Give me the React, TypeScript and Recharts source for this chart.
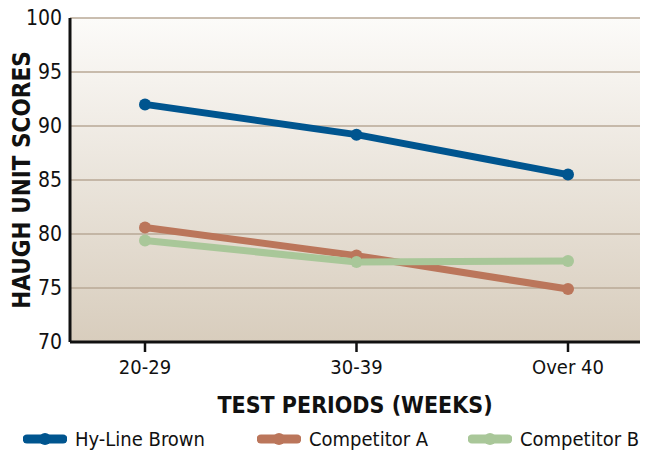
import { CartesianGrid, Label, Legend, Line, LineChart, XAxis, YAxis } from "recharts";

const periods = ["20-29", "30-39", "Over 40"];
const hyLineBrown = [92.0, 89.2, 85.5];
const competitorA = [80.6, 78.0, 74.9];
const competitorB = [79.4, 77.4, 77.5];
const yTicks = [70, 75, 80, 85, 90, 95, 100];

const series = [
  { key: "hyline", name: "Hy-Line Brown", color: "#00558f", left: 23 },
  { key: "compA", name: "Competitor A", color: "#bb765b", left: 257 },
  { key: "compB", name: "Competitor B", color: "#a9c799", left: 468 },
];

const data = periods.map((period, i) => ({
  period,
  hyline: hyLineBrown[i],
  compA: competitorA[i],
  compB: competitorB[i],
}));

const FONT = '"Liberation Sans Narrow", "DejaVu Sans Condensed", "Roboto Condensed", sans-serif';

function LegendRow() {
  return (
    <div style={{ position: "relative", height: 37, fontFamily: FONT, fontSize: 20, color: "#111" }}>
      {series.map((s) => (
        <div
          key={s.key}
          style={{ position: "absolute", left: s.left, top: 10, display: "flex", alignItems: "center", whiteSpace: "nowrap" }}
        >
          <svg width={44} height={14} style={{ marginRight: 8 }}>
            <line x1={4} y1={7} x2={40} y2={7} stroke={s.color} strokeWidth={9} strokeLinecap="round" />
            <circle cx={22} cy={7} r={6} fill={s.color} />
          </svg>
          <span>{s.name}</span>
        </div>
      ))}
    </div>
  );
}

export default function App() {
  return (
    <div style={{ position: "absolute", left: 0, top: 0, background: "#fff" }}>
      <LineChart width={646} height={454} data={data} margin={{ top: 18, right: 6, bottom: 0, left: 0 }}>
        <defs>
          <linearGradient id="plotBg" x1="0" y1="0" x2="0" y2="1">
            <stop offset="0%" stopColor="#fcfbf9" />
            <stop offset="100%" stopColor="#d8cdbd" />
          </linearGradient>
        </defs>
        <CartesianGrid vertical={false} fill="url(#plotBg)" stroke="#b8a996" strokeWidth={1.5} />
        <XAxis
          dataKey="period"
          height={75}
          padding={{ left: 75, right: 72 }}
          axisLine={{ stroke: "#111", strokeWidth: 3 }}
          tickLine={{ stroke: "#111", strokeWidth: 2.5 }}
          tickSize={10}
          tickMargin={8}
          tick={{ fill: "#111", fontSize: 20, fontFamily: FONT }}
        >
          <Label
            value="TEST PERIODS (WEEKS)"
            position="insideBottom"
            offset={4}
            style={{ fill: "#111", fontSize: 23, fontWeight: 700, fontFamily: FONT }}
          />
        </XAxis>
        <YAxis
          domain={[70, 100]}
          ticks={yTicks}
          width={70}
          axisLine={{ stroke: "#111", strokeWidth: 3 }}
          tickLine={false}
          tickSize={0}
          tickMargin={8}
          tick={{ fill: "#111", fontSize: 21, fontFamily: FONT }}
        >
          <Label
            content={({ viewBox }: any) => (
              <text
                x={0}
                y={0}
                transform={`translate(${viewBox.x + 30}, ${viewBox.y + viewBox.height / 2}) rotate(-90)`}
                textAnchor="middle"
                style={{ fill: "#111", fontSize: 24, fontWeight: 700, fontFamily: FONT }}
              >
                HAUGH UNIT SCORES
              </text>
            )}
          />
        </YAxis>
        <Legend verticalAlign="bottom" height={37} content={() => <LegendRow />} />
        {series.map((s) => (
          <Line
            key={s.key}
            dataKey={s.key}
            name={s.name}
            stroke={s.color}
            strokeWidth={7}
            dot={{ r: 6, fill: s.color, stroke: s.color, strokeWidth: 0 }}
            isAnimationActive={false}
          />
        ))}
      </LineChart>
    </div>
  );
}
